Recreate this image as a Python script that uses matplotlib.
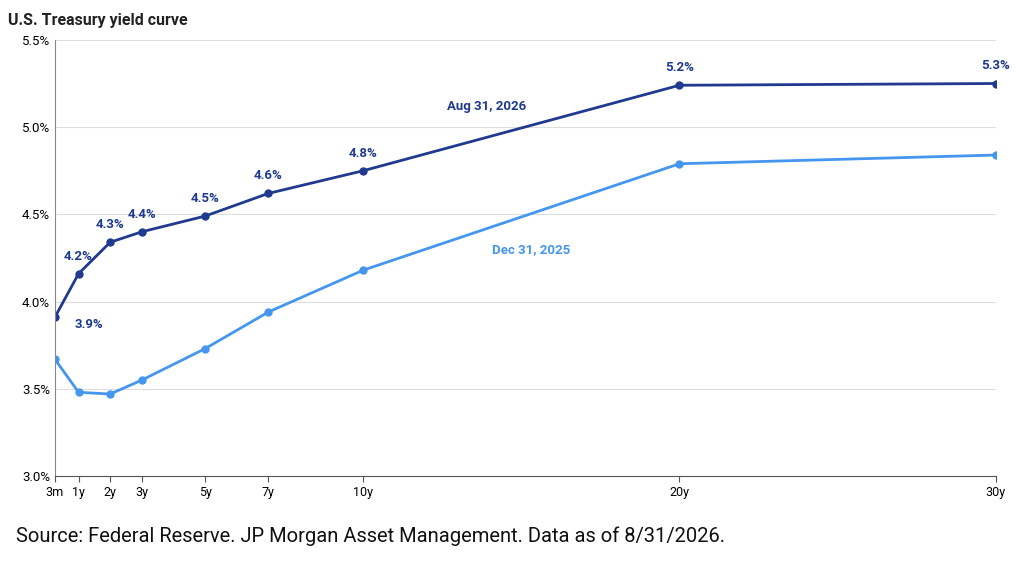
import numpy as np
import matplotlib.pyplot as plt

plt.rcParams['font.family'] = ['Roboto', 'DejaVu Sans']

maturity = [0.25, 1, 2, 3, 5, 7, 10, 20, 30]
tick_labels = ['3m', '1y', '2y', '3y', '5y', '7y', '10y', '20y', '30y']
aug_2026 = [3.91, 4.16, 4.34, 4.40, 4.49, 4.62, 4.75, 5.24, 5.25]
dec_2025 = [3.67, 3.48, 3.47, 3.55, 3.73, 3.94, 4.18, 4.79, 4.84]
aug_labels = ['3.9%', '4.2%', '4.3%', '4.4%', '4.5%', '4.6%', '4.8%', '5.2%', '5.3%']

dark = '#1F3A8F'
light = '#4596EE'

fig = plt.figure(figsize=(10.16, 5.62), dpi=100)
ax = fig.add_axes([0.054, 0.153, 0.926, 0.776])

ax.plot(maturity, dec_2025, color=light, lw=2, marker='o', ms=5)
ax.plot(maturity, aug_2026, color=dark, lw=2, marker='o', ms=5)

for i, (x, y, t) in enumerate(zip(maturity, aug_2026, aug_labels)):
    if i == 0:
        ax.annotate(t, (x, y), xytext=(14, -5), textcoords='offset points',
                    ha='left', va='center', fontsize=9.5, fontweight='bold', color=dark)
    else:
        ax.annotate(t, (x, y), xytext=(0, 8), textcoords='offset points',
                    ha='center', va='bottom', fontsize=9.5, fontweight='bold', color=dark)

ax.text(13.9, 5.1, 'Aug 31, 2026', color=dark, fontsize=9.5, fontweight='bold', ha='center')
ax.text(15.3, 4.28, 'Dec 31, 2025', color=light, fontsize=9.5, fontweight='bold', ha='center')

ax.set_xlim(0.25, 30)
ax.set_ylim(3.0, 5.5)
ax.set_xticks(maturity)
ax.set_xticklabels(tick_labels, fontsize=9)
yt = np.arange(3.0, 5.51, 0.5)
ax.set_yticks(yt)
ax.set_yticklabels([f'{v:.1f}%' for v in yt], fontsize=9.5)
ax.tick_params(axis='y', length=0)
ax.tick_params(axis='x', length=4, color='#555555')
ax.grid(axis='y', color='#DDDDDD', lw=0.8)
ax.set_axisbelow(True)
for s in ['top', 'right']:
    ax.spines[s].set_visible(False)
ax.spines['left'].set_color('#888888')
ax.spines['bottom'].set_color('#555555')

fig.text(0.008, 0.955, 'U.S. Treasury yield curve', fontsize=11.5, fontweight='bold', color='#222222')
fig.text(0.016, 0.035, 'Source: Federal Reserve. JP Morgan Asset Management. Data as of 8/31/2026.',
         fontsize=14.5, color='#111111')

fig.savefig('out.png', dpi=100)
